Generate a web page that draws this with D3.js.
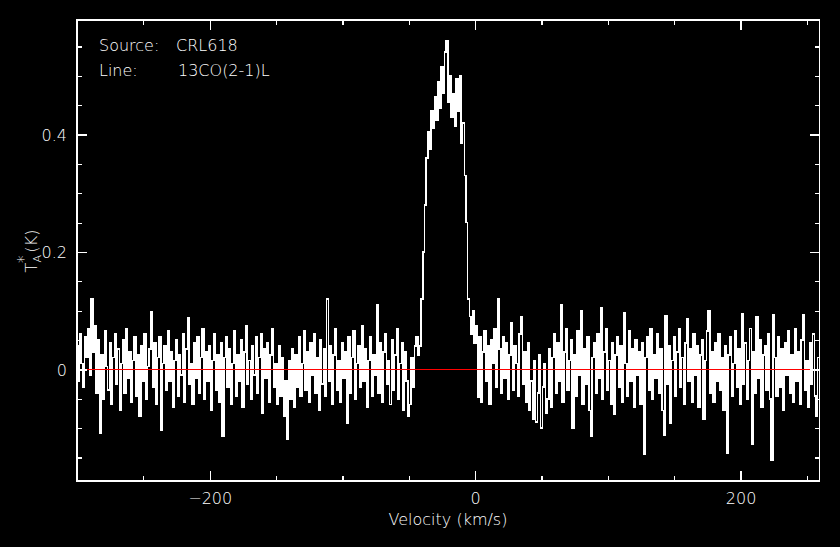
<!DOCTYPE html>
<html><head><meta charset="utf-8">
<script src="https://cdn.jsdelivr.net/npm/d3@7"></script>
<style>html,body{margin:0;background:#000;}svg{display:block}</style>
</head><body><svg id="c" width="840" height="547"></svg>
<script>
// spectrum header
const velStart = -300;      // km/s, first channel
const chanWidth = 1.25;     // km/s per channel
// antenna temperature per channel, mK
const baselineLeft = [
 40,-20,60,10,-30,55,20,70,-10,120,
 30,75,-40,50,-109,25,-50,65,5,-35,
 45,-60,20,60,-25,35,-70,10,50,-40,
 70,-15,30,-55,15,55,-45,25,-80,40,
 -20,60,-50,5,35,98,-30,45,-60,20,
 55,-104,10,40,-35,65,-20,30,-65,15,
 50,-45,25,-10,60,-55,35,88,-25,10,
 -60,45,-15,55,-40,20,70,-50,30,-20,
 40,-70,15,60,-35,25,-55,45,-114,20,
 55,-30,35,-60,10,65,-45,25,-20,50,
 -65,30,75,-25,15,-50,40,-10,55,-40,
 20,60,-75,35,-15,45,-55,25,70,-30,
 10,-60,40,-45,20,-80,-20,-118,15,-50,
 35,-65,25,-30,55,-45,10,65,-35,30,
 -55,45,-10,60,-40,20,-70,50,-25,35,
 -45,120,-20,40,-60,25,70,-35,15,-55,
 45,-15,30,-91,55,-40,20,65,-50,10,
 40,-30,75,-20,35,-65,15,55,-45,25,
 -10,110,-40,45,-55,30,60,-25,15,-60,
 50,-35,25,70,-50,10,45,-70,30,-20,
 -80,-60,20,-30,40,55
];
const lineProfile = [
 25,40,120,200,280,360,405,375,440,410,
 465,425,490,445,515,470,540,560,455,500,
 430,470,415,495,440,500,385,420,330,250,
 120
];
const baselineRight = [
 90,60,100,45,75,-47,55,-55,30,65,
 -20,40,-60,50,10,70,-30,120,35,-40,
 55,-15,45,-50,25,80,-35,40,10,-45,
 60,90,-25,30,-55,45,-70,-20,-85,15,
 -90,-40,25,-100,-30,10,-75,-50,35,-65,
 20,60,-40,45,-20,110,-55,30,70,-35,
 15,50,-100,25,-45,65,-10,100,-60,35,
 -25,55,-70,-114,20,45,-40,60,-15,105,
 -50,30,70,-35,15,-60,45,-77,25,55,
 -30,40,-55,97,10,-45,65,-20,35,-65,
 50,-10,30,-60,45,-145,20,55,-35,70,
 -50,25,-15,60,-40,35,-70,-112,91,-25,
 40,-91,15,55,-45,30,70,-30,20,-60,
 45,87,-20,35,-55,60,-10,40,-65,25,
 50,-84,15,65,100,-40,30,-55,45,-20,
 60,-35,20,-70,40,-143,25,55,-45,10,
 65,-30,35,-60,95,-25,45,-50,15,70,
 -128,30,-40,90,-15,50,-65,25,40,-35,
 60,-50,-155,93,20,-45,55,-30,35,-70,
 45,-10,65,-40,25,-55,70,-20,30,-60,
 50,93,-35,15,-65,45,-25,60,-45,-80,
 20
];
const xMajorTicks = [-200, 0, 200];
const xMinorTicks = [-250, -150, -100, -50, 50, 100, 150, 250];
const yMajorTicks = [0, 0.2, 0.4];
const yMinorTicks = [-0.15, -0.1, -0.05, 0.05, 0.1, 0.15, 0.25, 0.3, 0.35, 0.45, 0.5, 0.55];
const xDomain = [-300, 259.5];
const yDomain = [-0.19, 0.595];
const sourceName = "CRL618";
const lineName = "13CO(2-1)L";

const svg = d3.select("#c");
svg.append("rect").attr("width",840).attr("height",547).attr("fill","#000");
const L = 77, R = 819.5, T = 20, B = 481;
const x = d3.scaleLinear().domain(xDomain).range([L, R]);
const y = d3.scaleLinear().domain(yDomain).range([B, T]);

const temps = baselineLeft.concat(lineProfile, baselineRight);
const data = temps.map((mk, i) => ({v: velStart + i * chanWidth, t: mk / 1000}));

svg.append("clipPath").attr("id","plot").append("rect")
  .attr("x", L).attr("y", T).attr("width", R - L).attr("height", B - T);

const line = d3.line().x(d => x(d.v)).y(d => y(d.t)).curve(d3.curveStep);
svg.append("path").datum(data).attr("d", line)
  .attr("clip-path","url(#plot)").attr("shape-rendering","crispEdges")
  .attr("fill","none").attr("stroke","#fff").attr("stroke-width",1.6);

// zero line
svg.append("line").attr("x1", L).attr("x2", R).attr("y1", y(0)).attr("y2", y(0))
  .attr("stroke","#ff0000").attr("stroke-width",1).attr("shape-rendering","crispEdges");

// frame
svg.append("rect").attr("x", L).attr("y", T).attr("width", R - L).attr("height", B - T)
  .attr("fill","none").attr("stroke","#fff").attr("stroke-width",1.2)
  .attr("shape-rendering","crispEdges");

const font = "'DejaVu Sans', Arial, sans-serif";
const fw = 200;
// axes via d3 axis, ticks inward
function addAxis(make, tr, major, minor, labels) {
  const gM = svg.append("g").attr("transform", tr)
    .call(make().tickValues(major).tickSizeInner(-10).tickSizeOuter(0)
      .tickFormat(labels ? d3.format("") : ""));
  const gm = svg.append("g").attr("transform", tr)
    .call(make().tickValues(minor).tickSizeInner(-5).tickSizeOuter(0).tickFormat(""));
  [gM, gm].forEach(g => {
    g.select(".domain").remove();
    g.selectAll(".tick line").attr("stroke", "#fff").attr("stroke-width", 1.2)
      .attr("shape-rendering","crispEdges");
    g.selectAll("text").attr("fill","#fff").attr("font-family", font)
      .attr("font-weight", fw).attr("font-size", 16);
  });
  return gM;
}
const gx = addAxis(() => d3.axisBottom(x), `translate(0,${B})`, xMajorTicks, xMinorTicks, true);
gx.selectAll("text").attr("y", 12).attr("dy", "0.71em");
addAxis(() => d3.axisTop(x), `translate(0,${T})`, xMajorTicks, xMinorTicks, false);
const gy = addAxis(() => d3.axisLeft(y), `translate(${L},0)`, yMajorTicks, yMinorTicks, true);
gy.selectAll("text").attr("x", -10).attr("dy", "0.36em");
addAxis(() => d3.axisRight(y), `translate(${R},0)`, yMajorTicks, yMinorTicks, false);

// axis titles
svg.append("text").attr("x", 448).attr("y", 525).attr("text-anchor","middle")
  .attr("fill","#fff").attr("font-family", font).attr("font-weight", fw).attr("font-size", 16)
  .text("Velocity (km/s)");
const yl = svg.append("text").attr("transform","translate(37,251) rotate(-90)")
  .attr("text-anchor","middle").attr("fill","#fff").attr("font-family", font)
  .attr("font-weight", fw).attr("font-size", 16);
yl.append("tspan").text("T");
yl.append("tspan").attr("font-size", 11).attr("dy", 4).text("A");
yl.append("tspan").attr("font-size", 15).attr("dx", -8).attr("dy", -12).text("*");
yl.append("tspan").attr("dy", 8).attr("dx", 3).text("(K)");

// annotations
const ann = svg.append("g").attr("fill","#fff").attr("font-family", font)
  .attr("font-weight", fw).attr("font-size", 16);
ann.append("text").attr("x", 99).attr("y", 51).text("Source:");
ann.append("text").attr("x", 176).attr("y", 51).text(sourceName);
ann.append("text").attr("x", 99).attr("y", 76).text("Line:");
ann.append("text").attr("x", 178).attr("y", 76).text(lineName);
</script></body></html>
